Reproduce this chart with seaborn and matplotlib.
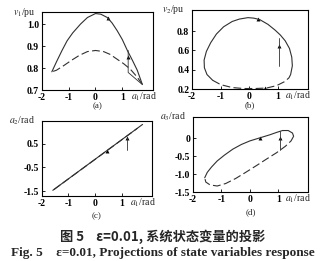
import numpy as np
import pandas as pd
import matplotlib
matplotlib.use("Agg")
import matplotlib.pyplot as plt
import seaborn as sns

sns.set_theme(style="ticks")
plt.rcParams['font.family'] = ['Liberation Serif', 'Noto Sans CJK SC', 'DejaVu Sans']
plt.rcParams['mathtext.fontset'] = 'stix'

# ---------------- data ----------------
# (a) v1 vs a1
a_solid_x = [-1.63, -1.45, -1.25, -1.06, -0.85, -0.56, -0.30, 0.0, 0.20, 0.44, 0.62,
             0.81, 1.00, 1.19, 1.38, 1.56, 1.75]
a_solid_y = [0.783, 0.83, 0.88, 0.924, 0.96, 1.00, 1.03, 1.048, 1.045, 1.03, 1.005,
             0.97, 0.93, 0.88, 0.835, 0.79, 0.725]
a_dash_x = [1.75, 1.55, 1.30, 1.05, 0.81, 0.55, 0.30, 0.0, -0.30, -0.60, -0.90, -1.20,
            -1.46, -1.63]
a_dash_y = [0.725, 0.76, 0.795, 0.82, 0.84, 0.862, 0.875, 0.88, 0.875, 0.858, 0.835,
            0.81, 0.79, 0.783]
a_jump_x = [1.70, 1.22, 1.22]
a_jump_y = [0.73, 0.78, 0.88]
a_mark_x = [0.45, 1.22]
a_mark_y = [1.027, 0.85]

# (b) v2 vs a1
b_solid_x = [1.44, 1.50, 1.48, 1.40, 1.25, 1.08, 0.90, 0.65, 0.36, 0.15, -0.05, -0.35,
             -0.60, -0.90, -1.15, -1.35, -1.50, -1.58, -1.57, -1.48, -1.28]
b_solid_y = [0.35, 0.44, 0.53, 0.62, 0.70, 0.76, 0.81, 0.87, 0.92, 0.935, 0.94, 0.925,
             0.90, 0.845, 0.77, 0.68, 0.59, 0.50, 0.42, 0.35, 0.29]
b_dash_x = [-1.28, -1.00, -0.60, -0.20, 0.20, 0.60, 0.95, 1.22, 1.38, 1.44]
b_dash_y = [0.29, 0.245, 0.215, 0.205, 0.205, 0.21, 0.235, 0.275, 0.315, 0.35]
b_jump_x = [1.05, 1.05]
b_jump_y = [0.44, 0.73]
b_mark_x = [0.30, 0.55, 1.05]
b_mark_y = [0.925, 0.21, 0.65]

# (c) a2 vs a1
c_solid_x = [-1.59, 1.79]
c_solid_y = [-1.46, 1.31]
c_dash_x = [-1.55, 1.60]
c_dash_y = [-1.43, 1.15]
c_jump_x = [1.22, 1.22]
c_jump_y = [0.23, 0.80]
c_mark_x = [0.44, 1.22]
c_mark_y = [0.20, 0.75]

# (d) a3 vs a1
d_solid_x = [-1.59, -1.50, -1.35, -1.15, -0.90, -0.60, -0.30, 0.0, 0.37, 0.70, 0.95,
             1.15, 1.35, 1.50, 1.54]
d_solid_y = [-1.10, -0.95, -0.80, -0.63, -0.47, -0.30, -0.17, -0.07, 0.02, 0.10, 0.17,
             0.22, 0.22, 0.15, 0.06]
d_dash_x = [1.54, 1.45, 1.25, 0.94, 0.60, 0.25, -0.15, -0.50, -0.85, -1.15, -1.40,
            -1.55, -1.59]
d_dash_y = [0.06, -0.07, -0.22, -0.40, -0.57, -0.75, -0.95, -1.12, -1.26, -1.33, -1.30,
            -1.22, -1.10]
d_jump_x = [1.06, 1.06]
d_jump_y = [-0.31, 0.22]
d_mark_x = [0.35, 1.06]
d_mark_y = [0.02, 0.0]

a_xticks = [-2, -1, 0, 1]
a_yticks = [0.7, 0.8, 0.9, 1.0]
b_yticks = [0.2, 0.4, 0.6, 0.8]
c_yticks = [-1.5, -0.5, 0.5]
d_yticks = [-1.5, -1.0, -0.5, 0]
d_ytick_labels = ["-1.5", "-1.0", "-0.5", "0"]
ylabels = ["$v_1$/pu", "$v_2$/pu", "$a_2$/rad", "$a_3$/rad"]
xlabel = "$a_1$/rad"
panel_labels = ["(a)", "(b)", "(c)", "(d)"]
caption_cn = "图 5    ε=0.01, 系统状态变量的投影"
caption_en = "Fig. 5    ε=0.01, Projections of state variables response"

# ---------------- figure ----------------
fig = plt.figure(figsize=(3.25, 2.61), dpi=100)
fig.patch.set_facecolor("white")

rects = [
    [0.129, 0.655, 0.342, 0.299],
    [0.591, 0.659, 0.357, 0.303],
    [0.129, 0.249, 0.339, 0.287],
    [0.594, 0.264, 0.354, 0.288],
]
panels = [
    (a_solid_x, a_solid_y, a_dash_x, a_dash_y, a_jump_x, a_jump_y, a_mark_x, a_mark_y,
     (-2, 2.15), (0.7, 1.055), a_yticks, ["0.7", "0.8", "0.9", "1.0"]),
    (b_solid_x, b_solid_y, b_dash_x, b_dash_y, b_jump_x, b_jump_y, b_mark_x, b_mark_y,
     (-2, 2.05), (0.2, 1.02), b_yticks, ["0.2", "0.4", "0.6", "0.8"]),
    (c_solid_x, c_solid_y, c_dash_x, c_dash_y, c_jump_x, c_jump_y, c_mark_x, c_mark_y,
     (-2, 2.15), (-1.7, 1.45), c_yticks, ["-1.5", "-0.5", "0.5"]),
    (d_solid_x, d_solid_y, d_dash_x, d_dash_y, d_jump_x, d_jump_y, d_mark_x, d_mark_y,
     (-2, 2.05), (-1.5, 0.6), d_yticks, d_ytick_labels),
]
panel_label_y = [-0.21, -0.21, -0.27, -0.27]

lc = "#303030"
for i, (rect, p) in enumerate(zip(rects, panels)):
    sx, sy, dx, dy, jx, jy, mx, my, xl, yl, yt, ytl = p
    ax = fig.add_axes(rect)
    sns.lineplot(x=sx, y=sy, ax=ax, sort=False, estimator=None, color=lc, lw=0.8)
    sns.lineplot(x=dx, y=dy, ax=ax, sort=False, estimator=None, color=lc, lw=0.8,
                 linestyle=(0, (7, 3)))
    sns.lineplot(x=jx, y=jy, ax=ax, sort=False, estimator=None, color=lc, lw=0.6)
    sns.scatterplot(x=mx, y=my, ax=ax, color="black", marker="^", s=8, linewidth=0)
    ax.set_xlim(*xl)
    ax.set_ylim(*yl)
    ax.set_xticks(a_xticks)
    ax.set_xticklabels([str(t) for t in a_xticks])
    ax.set_yticks(yt)
    ax.set_yticklabels(ytl)
    ax.tick_params(direction="in", length=2, width=0.6, labelsize=7, pad=2, colors="black")
    for lab in ax.get_xticklabels() + ax.get_yticklabels():
        lab.set_fontweight("bold")
    for s in ax.spines.values():
        s.set_linewidth(0.8)
        s.set_color("black")
        s.set_visible(True)
    ax.set_xlabel("")
    ax.set_ylabel("")
    ax.text(-0.06, 1.0, ylabels[i], transform=ax.transAxes, ha="right", va="center",
            fontsize=7)
    ax.text(0.80, -0.09, xlabel, transform=ax.transAxes, ha="left", va="center",
            fontsize=7)
    ax.text(0.5, panel_label_y[i], panel_labels[i], transform=ax.transAxes, ha="center",
            va="center", fontsize=6.5)

fig.text(0.5, 0.092, caption_cn, ha="center", va="center", fontsize=9.5, fontweight="bold",
         family=["Noto Sans CJK SC", "DejaVu Sans"])
fig.text(0.5, 0.03, caption_en, ha="center", va="center", fontsize=9.5, fontweight="bold",
         family=["Liberation Serif", "DejaVu Serif"])

fig.savefig("out.png", dpi=100, facecolor="white")
